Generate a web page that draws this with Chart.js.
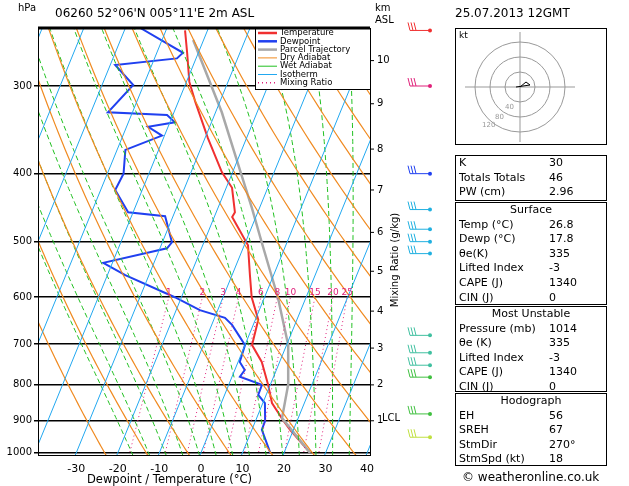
<!DOCTYPE html>
<html><head><meta charset="utf-8">
<script src="https://cdn.jsdelivr.net/npm/chart.js@4/dist/chart.umd.min.js"></script>
<style>
body{margin:0;background:#fff;font-family:"DejaVu Sans",sans-serif;}
#wrap{position:relative;width:629px;height:486px;}
canvas{position:absolute;left:0;top:0;}
.t{position:absolute;font-size:11px;color:#000;white-space:nowrap;}
.tb{position:absolute;border:1px solid #000;left:455px;width:152px;box-sizing:border-box;}
.r{position:absolute;left:3px;font-size:11px;}
.v{position:absolute;left:93px;font-size:11px;}
.h{position:absolute;width:150px;text-align:center;font-size:11px;}
</style></head><body>
<div id="wrap"><canvas id="c" width="629" height="486"></canvas></div>
<script>
// ---- data (pressure hPa, temperature °C) ----
const tempP = [1000,927,900,849,800,742,702,646,600,558,506,461,454,419,398,356,316,296,269,250];
const tempT = [26.3,19.2,16.7,12.2,9.5,5.7,1.7,0.7,-3.1,-5.7,-9.1,-15.7,-15.5,-18.6,-22.6,-29.3,-35.9,-39.3,-42.7,-45.4];
const dewP = [1000,927,900,849,827,800,779,762,742,702,684,657,642,626,600,558,536,511,501,460,454,422,400,370,353,343,338,330,327,299,280,274,269,248];
const dewT = [16.7,12.4,12.3,10.5,8.1,8.0,1.9,2.4,0.4,0.0,-2.0,-5.1,-7.5,-14.3,-21.6,-35.7,-42.2,-28.3,-27.7,-31.9,-41.2,-46.5,-46.1,-48.0,-40.6,-44.8,-38.8,-41.4,-55.9,-52.5,-58.8,-44.6,-43.7,-56.4];
const parP = [1000,892,800,702,600,501,448,389,327,258];
const parT = [26.3,16.1,14.3,10.4,3.2,-6.1,-11.8,-19.3,-28.5,-42.5];
const pressureTicks = [300,400,500,600,700,800,900,1000];
const tempTicks = [-30,-20,-10,0,10,20,30,40];
const mixRatios = [1,2,3,4,6,8,10,15,20,25];
const kmLabels = ['10','9','8','7','6','5','4','3','2','1'];
const kmP = [276,318,369,422,485,551,628,709,800,900];

const SKEW = 30;
const sk = (p,t)=>({x:t+SKEW*Math.log(1000/p), y:p});
function series(P,T){return P.map((p,i)=>sk(p,T[i]));}
const lvls=[];for(let p=1010;p>=240;p-=10)lvls.push(p);

const ds=[];
function bg(data,color,dash,w){ds.push({data,borderColor:color,borderWidth:w||1,borderDash:dash||[],showLine:true,pointRadius:0,fill:false,tension:0});}
for(let t=-110;t<=40;t+=10)bg([sk(1010,t),sk(240,t)],'#22a8f0');
for(let th=250;th<=470;th+=10)bg(lvls.map(p=>sk(p,th*Math.pow(p/1000,0.286)-273.15)),'#f08a20',[],1.2);
function es(t){return 6.112*Math.exp(17.67*t/(t+243.5));}
function moist(t0){const out=[];let t=t0;for(let p=1010;p>=240;p-=5){if(p%10===0)out.push(sk(p,t));const T=t+273.15,e=es(t),r=0.622*e/(p-e),L=2.5e6;
const g=(287*T+L*r)/(1004+L*L*r*0.622/(287*T*T))/p;t-=g*5;}return out;}
for(let t=-16;t<=36;t+=4)bg(moist(t),'#20c020',[5,3]);
function mixT(w,p){const e=w*p/(622+w);const l=Math.log(e/6.112);return 243.5*l/(17.67-l);}
mixRatios.forEach(w=>bg([sk(1010,mixT(w,1010)),sk(600,mixT(w,600))],'#e0207a',[1,3]));
ds.push({data:series(parP,parT),borderColor:'#a8a8a8',borderWidth:2.5,showLine:true,pointRadius:0});
ds.push({data:series(dewP,dewT),borderColor:'#2040f0',borderWidth:2,showLine:true,pointRadius:0});
ds.push({data:series(tempP,tempT),borderColor:'#f03030',borderWidth:2,showLine:true,pointRadius:0});

const extra={id:'extra',afterDatasetsDraw(ch){const c=ch.ctx,x=ch.scales.x,y=ch.scales.y,a=ch.chartArea;
c.save();
c.font='9px "DejaVu Sans"';c.fillStyle='#e0207a';c.textAlign='center';
mixRatios.forEach(w=>{c.fillText(String(w),x.getPixelForValue(sk(600,mixT(w,600)).x),y.getPixelForValue(600)-2);});
const lx=a.right-115,ly=a.top;c.fillStyle='#fff';c.fillRect(lx,ly,115,61);c.strokeStyle='#000';c.lineWidth=1;c.strokeRect(lx+0.5,ly+0.5,115,61);
const L=[['Temperature','#f03030',[],2.5],['Dewpoint','#2040f0',[],2.5],['Parcel Trajectory','#a8a8a8',[],2.5],['Dry Adiabat','#f08a20',[],1],['Wet Adiabat','#20c020',[],1],['Isotherm','#22a8f0',[],1],['Mixing Ratio','#e0207a',[1,3],1.5]];
c.font='8.5px "DejaVu Sans"';c.textAlign='left';c.textBaseline='middle';
L.forEach((e,i)=>{const yy=ly+5+i*8.3;c.strokeStyle=e[1];c.lineWidth=e[3];c.setLineDash(e[2]);c.beginPath();c.moveTo(lx+3,yy);c.lineTo(lx+22,yy);c.stroke();c.fillStyle='#000';c.fillText(e[0],lx+25,yy);});
c.setLineDash([]);
c.strokeStyle='#000';c.lineWidth=1;c.beginPath();c.moveTo(a.right+0.5,a.top);c.lineTo(a.right+0.5,a.bottom);c.stroke();
c.font='10px "DejaVu Sans"';c.fillStyle='#000';c.textAlign='left';
kmP.forEach((p,i)=>{const yy=y.getPixelForValue(p);c.beginPath();c.moveTo(a.right,yy);c.lineTo(a.right+4,yy);c.stroke();c.fillText(kmLabels[i],a.right+7,yy);});
c.fillText('LCL',a.right+12,y.getPixelForValue(892));
c.save();c.translate(a.right+25,260);c.rotate(-Math.PI/2);c.textAlign='center';c.fillText('Mixing Ratio (g/kg)',0,0);c.restore();
c.beginPath();c.moveTo(a.left+0.5,a.top);c.lineTo(a.left+0.5,a.bottom);c.stroke();
c.lineWidth=3;c.beginPath();c.moveTo(a.left,a.top);c.lineTo(a.right,a.top);c.stroke();
const hx=520,hy=87;c.lineWidth=1;c.strokeStyle='#999';[15,30,45].forEach(r=>{c.beginPath();c.arc(hx,hy,r,0,7);c.stroke();});
c.beginPath();c.moveTo(hx-55,hy);c.lineTo(hx+55,hy);c.moveTo(hx,hy-55);c.lineTo(hx,hy+55);c.stroke();
c.strokeStyle='#000';c.beginPath();c.moveTo(hx,hy);c.lineTo(hx+6,hy-5);c.lineTo(hx+10,hy-2);c.lineTo(hx-4,hy);c.stroke();
c.font='7px "DejaVu Sans"';c.fillStyle='#999';c.fillText('40',hx-15,hy+20);c.fillText('80',hx-25,hy+30);c.fillText('120',hx-38,hy+38);
const wb=[[250,'#f03030'],[300,'#e0207a'],[400,'#2040f0'],[450,'#20b0e0'],[480,'#20b0e0'],[500,'#20b0e0'],[520,'#20b0e0'],[680,'#40c0a0'],[720,'#40c0a0'],[750,'#40c0a0'],[780,'#40c040'],[880,'#40c040'],[950,'#c0e040']];
wb.forEach(([p,col])=>{const yy=y.getPixelForValue(p);c.strokeStyle=col;c.lineWidth=1;c.beginPath();c.moveTo(410,yy);c.lineTo(430,yy);for(let k=0;k<3;k++){c.moveTo(410+k*3,yy);c.lineTo(408+k*3,yy-8);}c.stroke();c.fillStyle=col;c.beginPath();c.arc(430,yy,2,0,7);c.fill();});
c.restore();}};

new Chart(document.getElementById('c'),{type:'scatter',data:{datasets:ds},
options:{responsive:false,animation:false,events:[],
layout:{padding:{left:0,right:259,top:28,bottom:0}},
plugins:{legend:{display:false},tooltip:{enabled:false}},
scales:{
x:{type:'linear',min:-39.2,max:40.7,afterBuildTicks:s=>{s.ticks=tempTicks.map(v=>({value:v}));},
afterFit:s=>{s.height=31;},grid:{display:false},border:{color:'#000'},
ticks:{color:'#000',font:{size:11,family:'DejaVu Sans'},padding:0}},
y:{type:'logarithmic',reverse:true,min:248,max:1007,afterBuildTicks:s=>{s.ticks=pressureTicks.map(v=>({value:v}));},
afterFit:s=>{s.width=38;},grid:{color:'#000',lineWidth:1.5,drawTicks:true,tickLength:4},border:{color:'#000'},
ticks:{color:'#000',font:{size:10,family:'DejaVu Sans'},callback:v=>String(v),padding:2}}}},
plugins:[extra]});

const W=document.getElementById('wrap');
function T(txt,x,y,st){const d=document.createElement('div');d.className='t';d.textContent=txt;d.style.left=x+'px';d.style.top=y+'px';if(st)d.style.cssText+=st;W.appendChild(d);return d;}
T('hPa',18,2,'font-size:10px');
T('06260  52°06\'N  005°11\'E        2m  ASL',55,6,'font-size:12px');
T('km',375,2,'font-size:10px');T('ASL',375,14,'font-size:10px');
T('25.07.2013  12GMT',455,6,'font-size:12px');
T('Dewpoint / Temperature (°C)',87,472,'font-size:11.5px');
T('© weatheronline.co.uk',462,470,'font-size:12px');
T('kt',459,30,'font-size:9px');
const hb=document.createElement('div');hb.style.cssText='position:absolute;left:455px;top:28px;width:152px;height:117px;border:1px solid #000;box-sizing:border-box;';W.appendChild(hb);
const RH=14.6;
const blocks=[
 {top:155,bot:201,rows:[['K','30'],['Totals Totals','46'],['PW (cm)','2.96']]},
 {top:202,bot:305,head:'Surface',rows:[['Temp (°C)','26.8'],['Dewp (°C)','17.8'],['θe(K)','335'],['Lifted Index','-3'],['CAPE (J)','1340'],['CIN (J)','0']]},
 {top:306,bot:392,head:'Most Unstable',rows:[['Pressure (mb)','1014'],['θe (K)','335'],['Lifted Index','-3'],['CAPE (J)','1340'],['CIN (J)','0']]},
 {top:393,bot:466,head:'Hodograph',rows:[['EH','56'],['SREH','67'],['StmDir','270°'],['StmSpd (kt)','18']]}];
blocks.forEach(b=>{const d=document.createElement('div');d.className='tb';d.style.top=b.top+'px';d.style.height=(b.bot-b.top)+'px';
let i=0;if(b.head){const h=document.createElement('div');h.className='h';h.style.top='0px';h.textContent=b.head;d.appendChild(h);i=1;}
b.rows.forEach(r=>{const a=document.createElement('div');a.className='r';a.style.top=(i*RH)+'px';a.textContent=r[0];const v=document.createElement('div');v.className='v';v.style.top=(i*RH)+'px';v.textContent=r[1];d.appendChild(a);d.appendChild(v);i++;});
W.appendChild(d);});
</script></body></html>
